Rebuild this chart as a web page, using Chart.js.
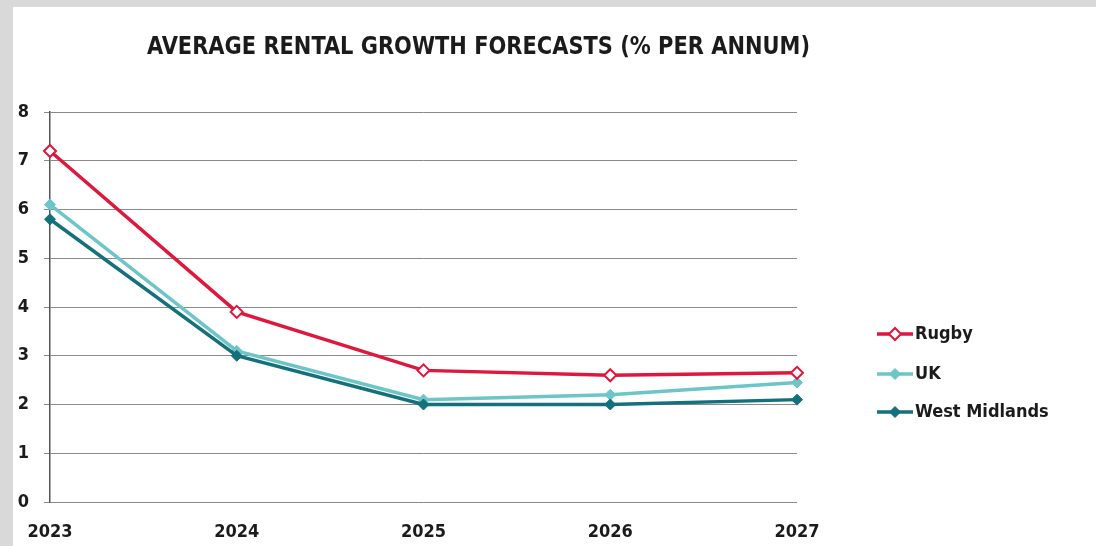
<!DOCTYPE html>
<html>
<head>
<meta charset="utf-8">
<title>Average rental growth forecasts</title>
<script src="https://cdn.jsdelivr.net/npm/chart.js@4/dist/chart.umd.min.js"></script>
<style>
    html, body { margin: 0; padding: 0; }
    body { width: 1096px; height: 546px; background: #d9d9d9; position: relative; overflow: hidden; }
    #wrap { position: absolute; left: 13px; top: 7px; width: 1083px; height: 539px; background: #ffffff; }
    canvas { display: block; }
</style>
</head>
<body>
<div id="wrap"><canvas id="rentChart" width="1083" height="539"></canvas></div>
<script>
// chart data
const years = ['2023', '2024', '2025', '2026', '2027'];
const rugby = [7.2, 3.9, 2.7, 2.6, 2.65];
const uk = [6.1, 3.1, 2.1, 2.2, 2.45];
const westMidlands = [5.8, 3.0, 2.0, 2.0, 2.1];
const seriesNames = ['Rugby', 'UK', 'West Midlands'];
const yTicks = [0, 1, 2, 3, 4, 5, 6, 7, 8];

const titleText = 'AVERAGE RENTAL GROWTH FORECASTS (% PER ANNUM)';
const FONT = '"DejaVu Sans Condensed", "DejaVu Sans", sans-serif';
const INK = '#1b1b1b';

const RED = '#e0173d';
const TEAL_LIGHT = '#6cc6c8';
const TEAL_DARK = '#14707b';

/**
 * Title drawn on the canvas, squeezed to the condensed width of the original.
 */
const titlePlugin = {
    id: 'squeezedTitle',
    afterDraw(chart) {
        const ctx = chart.ctx;
        ctx.save();
        ctx.font = 'bold 25px ' + FONT;
        ctx.fillStyle = INK;
        ctx.textAlign = 'left';
        ctx.textBaseline = 'alphabetic';
        ctx.fillText(titleText, 134, 47, 663);
        ctx.restore();
    }
};

/**
 * Legend with a short line and the series marker on it, to the right.
 */
const sideLegend = {
    id: 'sideLegend',
    afterDraw(chart) {
        const ctx = chart.ctx;
        const x0 = 864, x1 = 900, rows = [327, 367, 405];
        const order = [0, 2, 1]; // dataset index for Rugby, UK, West Midlands
        ctx.save();
        order.forEach((dsIndex, i) => {
            const ds = chart.data.datasets[dsIndex];
            const y = rows[i];
            const r = ds.pointRadius, cx = (x0 + x1) / 2;
            ctx.strokeStyle = ds.borderColor;
            ctx.lineWidth = ds.borderWidth;
            ctx.beginPath();
            ctx.moveTo(x0, y);
            ctx.lineTo(x1, y);
            ctx.stroke();
            ctx.fillStyle = ds.pointBackgroundColor;
            ctx.strokeStyle = ds.pointBorderColor;
            ctx.lineWidth = ds.pointBorderWidth;
            ctx.beginPath();
            ctx.moveTo(cx, y - r); ctx.lineTo(cx + r, y); ctx.lineTo(cx, y + r); ctx.lineTo(cx - r, y); ctx.closePath();
            ctx.fill();
            ctx.stroke();
            ctx.font = 'bold 18px ' + FONT;
            ctx.fillStyle = INK;
            ctx.textAlign = 'left';
            ctx.textBaseline = 'middle';
            ctx.fillText(ds.label, x1 + 2, y);
        });
        ctx.restore();
    }
};

const ctx = document.getElementById('rentChart').getContext('2d');

new Chart(ctx, {
    type: 'line',
    data: {
        labels: years,
        datasets: [{
            label: seriesNames[0],
            data: rugby,
            borderColor: RED,
            borderWidth: 3.5,
            pointStyle: 'rectRot',
            pointRadius: 6,
            pointBorderWidth: 2,
            pointBackgroundColor: '#ffffff',
            pointBorderColor: RED,
            order: 0,
            clip: false,
        }, {
            label: seriesNames[2],
            data: westMidlands,
            borderColor: TEAL_DARK,
            borderWidth: 3.5,
            pointStyle: 'rectRot',
            pointRadius: 5.5,
            pointBorderWidth: 1,
            pointBackgroundColor: TEAL_DARK,
            pointBorderColor: TEAL_DARK,
            order: 1,
            clip: false,
        }, {
            label: seriesNames[1],
            data: uk,
            borderColor: TEAL_LIGHT,
            borderWidth: 3.5,
            pointStyle: 'rectRot',
            pointRadius: 5.5,
            pointBorderWidth: 1,
            pointBackgroundColor: TEAL_LIGHT,
            pointBorderColor: TEAL_LIGHT,
            order: 2,
            clip: false,
        }],
    },
    options: {
        responsive: false,
        animation: false,
        devicePixelRatio: 1,
        layout: { padding: { top: 105, right: 299, bottom: 1, left: 0 } },
        plugins: {
            legend: { display: false },
            title: { display: false },
            tooltip: { enabled: false },
        },
        scales: {
            x: {
                offset: false,
                afterFit(scale) { scale.height = 43; },
                grid: { display: false },
                border: { display: false },
                ticks: {
                    color: INK,
                    padding: 12,
                    maxRotation: 0,
                    font: { family: FONT, size: 18, weight: 'bold' },
                },
            },
            y: {
                min: yTicks[0],
                max: yTicks[yTicks.length - 1],
                afterFit(scale) { scale.width = 37; },
                afterBuildTicks(scale) { scale.ticks = yTicks.map(v => ({ value: v })); },
                grid: { color: '#8a8a8a', lineWidth: 1, tickLength: 6 },
                border: { display: true, color: '#555555', width: 1.5 },
                ticks: {
                    color: INK,
                    padding: 15,
                    font: { family: FONT, size: 18, weight: 'bold' },
                },
            },
        },
    },
    plugins: [titlePlugin, sideLegend],
});
</script>
</body>
</html>
